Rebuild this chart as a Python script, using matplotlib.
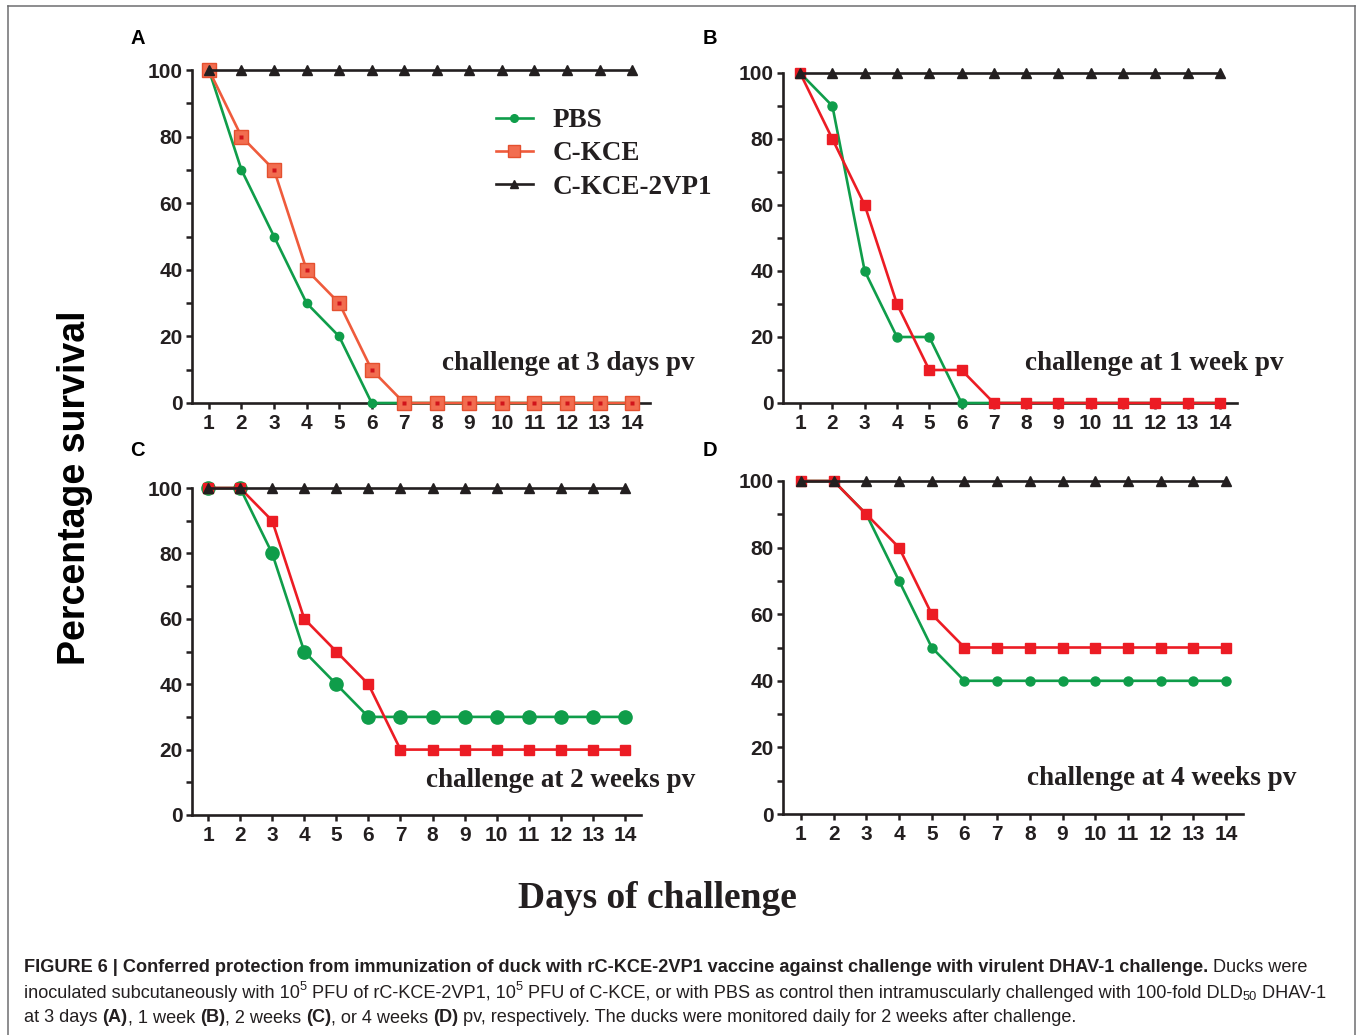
import numpy as np
import matplotlib
matplotlib.use("Agg")
import matplotlib.pyplot as plt
from matplotlib.lines import Line2D
from matplotlib.ticker import MultipleLocator

# data (percentage survival per day)
days = list(range(1, 15))

pbs_a = [100, 70, 50, 30, 20, 0, 0, 0, 0, 0, 0, 0, 0, 0]
kce_a = [100, 80, 70, 40, 30, 10, 0, 0, 0, 0, 0, 0, 0, 0]
pbs_b = [100, 90, 40, 20, 20, 0, 0, 0, 0, 0, 0, 0, 0, 0]
kce_b = [100, 80, 60, 30, 10, 10, 0, 0, 0, 0, 0, 0, 0, 0]
pbs_c = [100, 100, 80, 50, 40, 30, 30, 30, 30, 30, 30, 30, 30, 30]
kce_c = [100, 100, 90, 60, 50, 40, 20, 20, 20, 20, 20, 20, 20, 20]
pbs_d = [100, 100, 90, 70, 50, 40, 40, 40, 40, 40, 40, 40, 40, 40]
kce_d = [100, 100, 90, 80, 60, 50, 50, 50, 50, 50, 50, 50, 50, 50]
vp1_all = [100] * 14

panel_letters = ["A", "B", "C", "D"]
panel_notes = ["challenge at 3 days pv", "challenge at 1 week pv",
               "challenge at 2 weeks pv", "challenge at 4 weeks pv"]
series_names = ["PBS", "C-KCE", "C-KCE-2VP1"]

GREEN = "#0f9d4a"
ORANGE = "#ef5b3c"
RED = "#ec1c24"
BLACK = "#231f20"
SANS = ["Liberation Sans", "DejaVu Sans"]
SERIF = ["Liberation Serif", "DejaVu Serif"]

W, H = 1357, 1035
fig = plt.figure(figsize=(W / 100, H / 100), dpi=100)
fig.patch.set_facecolor("white")

def px(x0, y0, x1, y1):
    # pixel box (top-left origin) -> figure fraction rect
    return [x0 / W, 1 - y1 / H, (x1 - x0) / W, (y1 - y0) / H]

panels = [
    dict(rect=px(192, 70, 650, 403), xlim=(0.48, 14.55), pbs=pbs_a, kce=kce_a,
         pbs_ms=6, kce_ms=10, kce_col=ORANGE, note=(1.098, 0.12), letter=(138, 38)),
    dict(rect=px(783, 73, 1237, 403), xlim=(0.47, 14.53), pbs=pbs_b, kce=kce_b,
         pbs_ms=6.5, kce_ms=7.5, kce_col=RED, note=(1.103, 0.12), letter=(710, 38)),
    dict(rect=px(192, 488, 641, 815), xlim=(0.5, 14.5), pbs=pbs_c, kce=kce_c,
         pbs_ms=9.5, kce_ms=7.5, kce_col=RED, note=(1.12, 0.104), letter=(137, 451)),
    dict(rect=px(783, 481, 1243, 814), xlim=(0.45, 14.52), pbs=pbs_d, kce=kce_d,
         pbs_ms=6.5, kce_ms=7.5, kce_col=RED, note=(1.117, 0.108), letter=(710, 451)),
]

for i, p in enumerate(panels):
    ax = fig.add_axes(p["rect"])
    ax.plot(days, p["pbs"], color=GREEN, lw=1.9, marker="o", ms=p["pbs_ms"],
            mec=GREEN, mfc=GREEN, clip_on=False, zorder=3)
    if i == 0:
        ax.plot(days, p["kce"], color=ORANGE, lw=1.9, marker="s", ms=p["kce_ms"],
                mfc="#f26d50", mec="#e4502f", mew=1.0, clip_on=False, zorder=4)
        ax.plot(days, p["kce"], ls="none", marker="s", ms=2.2, mfc="#d1141b",
                mec="none", clip_on=False, zorder=4.5)
    else:
        ax.plot(days, p["kce"], color=RED, lw=1.9, marker="s", ms=p["kce_ms"],
                mfc=RED, mec=RED, clip_on=False, zorder=4)
    ax.plot(days, vp1_all, color=BLACK, lw=1.9, marker="^", ms=6.5,
            mfc=BLACK, mec=BLACK, clip_on=False, zorder=5)

    ax.set_xlim(*p["xlim"])
    ax.set_ylim(0, 100)
    ax.set_xticks(days)
    ax.set_yticks([0, 20, 40, 60, 80, 100])
    ax.yaxis.set_minor_locator(MultipleLocator(10))
    for s in ["top", "right"]:
        ax.spines[s].set_visible(False)
    for s in ["left", "bottom"]:
        ax.spines[s].set_linewidth(1.9)
        ax.spines[s].set_color(BLACK)
    ax.tick_params(axis="x", direction="out", length=4.5, width=1.8, pad=3.5,
                   colors=BLACK, labelsize=15)
    ax.tick_params(axis="y", which="both", direction="out", length=4.5, width=1.8,
                   pad=2, colors=BLACK, labelsize=15)
    for lab in ax.get_xticklabels() + ax.get_yticklabels():
        lab.set_fontweight("bold")
        lab.set_family(SANS)

    ax.text(p["note"][0], p["note"][1], panel_notes[i], transform=ax.transAxes,
            ha="right", va="center", fontsize=19.5, fontweight="bold",
            family=SERIF, color=BLACK)
    fig.text(p["letter"][0] / W, 1 - p["letter"][1] / H, panel_letters[i],
             ha="center", va="center", fontsize=14.5, fontweight="bold",
             family=SANS, color="black")

    if i == 0:
        handles = [
            Line2D([], [], color=GREEN, lw=1.9, marker="o", ms=5.5, mfc=GREEN, mec=GREEN),
            Line2D([], [], color=ORANGE, lw=1.9, marker="s", ms=9, mfc="#f26d50",
                   mec="#e4502f"),
            Line2D([], [], color=BLACK, lw=1.9, marker="^", ms=6, mfc=BLACK, mec=BLACK),
        ]
        leg = ax.legend(handles, series_names, loc="upper left",
                        bbox_to_anchor=(496 / W, 1 - 108 / H),
                        bbox_transform=fig.transFigure, frameon=False,
                        prop=dict(family=SERIF, weight="bold", size=19.5),
                        handlelength=1.35, handletextpad=0.75, labelspacing=0.31,
                        borderpad=0, borderaxespad=0)
        for t in leg.get_texts():
            t.set_color(BLACK)

# shared axis titles
fig.text(75 / W, 1 - 488 / H, "Percentage survival", rotation=90, ha="center",
         va="center", fontsize=27, fontweight="bold", family=SANS, color="black")
fig.text(657 / W, 1 - 898 / H, "Days of challenge", ha="center", va="center",
         fontsize=27, fontweight="bold", family=SERIF, color=BLACK)

# frame round the figure (no bottom edge visible)
fc = "#6d6e70"
fig.add_artist(Line2D([8 / W, 8 / W], [0, 1 - 6 / H], color=fc, lw=1.1,
                      transform=fig.transFigure))
fig.add_artist(Line2D([8 / W, 1355 / W], [1 - 6 / H, 1 - 6 / H], color=fc, lw=1.1,
                      transform=fig.transFigure))
fig.add_artist(Line2D([1355 / W, 1355 / W], [0, 1 - 6 / H], color=fc, lw=1.1,
                      transform=fig.transFigure))

# caption, drawn run by run so bold/regular/super/subscripts can be mixed
cap_lines = [
    [("FIGURE 6 | Conferred protection from immunization of duck with rC-KCE-2VP1 "
      "vaccine against challenge with virulent DHAV-1 challenge.", "b"),
     (" Ducks were", "r")],
    [("inoculated subcutaneously with 10", "r"), ("5", "sup"),
     (" PFU of rC-KCE-2VP1, 10", "r"), ("5", "sup"),
     (" PFU of C-KCE, or with PBS as control then intramuscularly challenged with "
      "100-fold DLD", "r"), ("50", "sub"), (" DHAV-1", "r")],
    [("at 3 days ", "r"), ("(A)", "b"), (", 1 week ", "r"), ("(B)", "b"),
     (", 2 weeks ", "r"), ("(C)", "b"), (", or 4 weeks ", "r"), ("(D)", "b"),
     (" pv, respectively. The ducks were monitored daily for 2 weeks after challenge.", "r")],
]
cap_y = [967, 993, 1018]
cap_size = 13.1
renderer = fig.canvas.get_renderer()
for line, yy in zip(cap_lines, cap_y):
    x = 24 / W
    for txt, kind in line:
        size = cap_size if kind in ("r", "b") else cap_size * 0.7
        dy = 0
        if kind == "sup":
            dy = 6 / H
        elif kind == "sub":
            dy = -4 / H
        t = fig.text(x, 1 - yy / H + dy, txt, ha="left", va="center",
                     fontsize=size, family=SANS,
                     fontweight="bold" if kind == "b" else "normal",
                     color="#231f20")
        bb = t.get_window_extent(renderer)
        x += bb.width / W

fig.savefig("out.png", dpi=100, facecolor="white")
